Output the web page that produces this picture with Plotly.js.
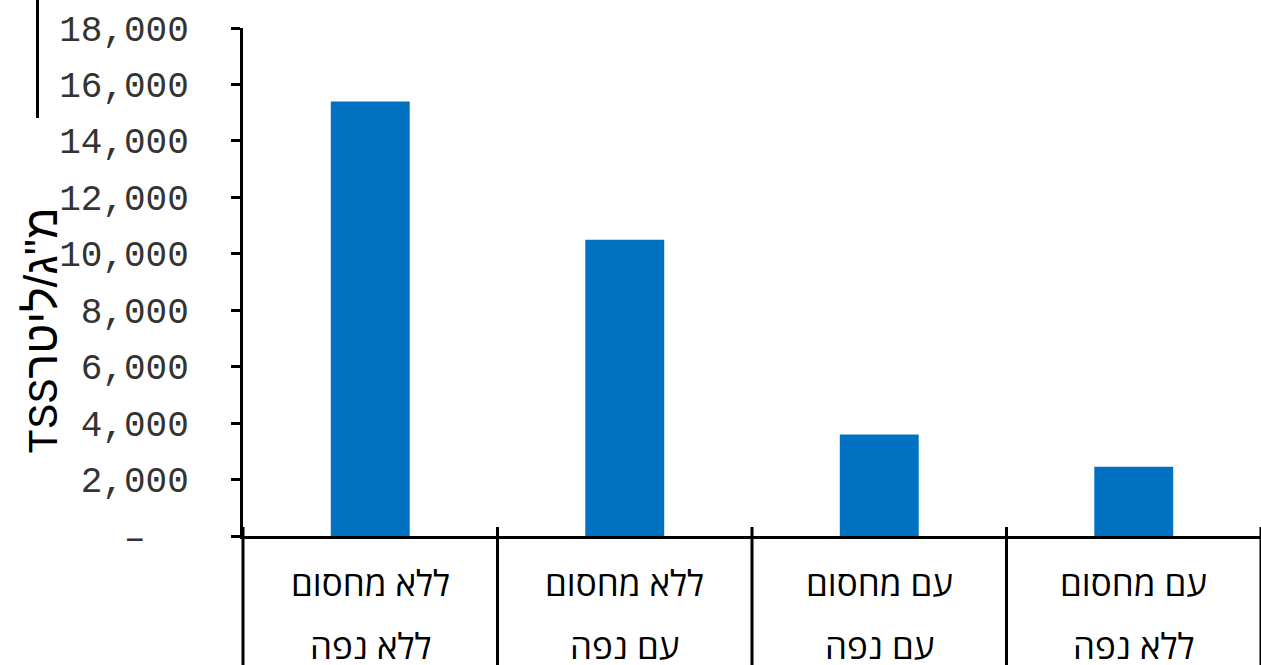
<!DOCTYPE html>
<html>
<head>
<meta charset="utf-8">
<script src="https://cdn.plot.ly/plotly-3.0.1.min.js"></script>
<style>
  html, body { margin: 0; padding: 0; background: #fff; }
  #chart { width: 1261px; height: 665px; }
</style>
</head>
<body>
<div id="chart"></div>
<script>
// TSS concentration by treatment (barrier / sieve)
const categories = ['A', 'B', 'C', 'D'];
const labelTop = ['ללא מחסום', 'ללא מחסום', 'עם מחסום', 'עם מחסום'];
const labelBottom = ['ללא נפה', 'עם נפה', 'עם נפה', 'ללא נפה'];
const tssValues = [15400, 10500, 3600, 2450];
const yTickVals = [0, 2000, 4000, 6000, 8000, 10000, 12000, 14000, 16000, 18000];
const yTickText = ['\u2013\u00a0\u00a0', '2,000', '4,000', '6,000', '8,000', '10,000', '12,000', '14,000', '16,000', '18,000'];
const yTitleLatin = 'TSS';
const yTitleHebrew = 'מ"ג/ליטר';

const W = 1261, H = 665;
const margin = { l: 243, r: 0, t: 28, b: 129 };
const plotH = H - margin.t - margin.b;
const plotW = W - margin.l - margin.r;

const MONO = 'Liberation Mono, Courier New, monospace';
const SANS = 'Noto Sans, Open Sans, sans-serif';

const trace = {
  type: 'bar',
  x: categories,
  y: tssValues,
  width: 0.31,
  marker: { color: '#0070C0', line: { width: 0 } },
  hoverinfo: 'skip'
};

// Category label rows under the axis
const annotations = [];
categories.forEach((c, i) => {
  annotations.push({
    xref: 'x', yref: 'paper', x: c, y: 0, yanchor: 'middle',
    yshift: -46, text: labelTop[i], showarrow: false,
    font: { family: SANS, size: 35, color: '#000' }
  });
  annotations.push({
    xref: 'x', yref: 'paper', x: c, y: 0, yanchor: 'middle',
    yshift: -109, text: labelBottom[i], showarrow: false,
    font: { family: SANS, size: 35, color: '#000' }
  });
});

// Rotated axis title: Latin part in monospace, Hebrew part in sans
annotations.push({
  xref: 'paper', yref: 'paper',
  x: (42 - margin.l) / plotW, y: (H - margin.b - 331) / plotH,
  xanchor: 'center', yanchor: 'middle',
  text: yTitleLatin + '<span style="font-family:Liberation Sans, Arial, sans-serif;font-size:46px">' + yTitleHebrew + '</span>',
  textangle: -90, showarrow: false,
  font: { family: MONO, size: 42, color: '#000' }
});

// Category separators running from just above the axis down past the labels
const shapes = [];
for (let k = 0; k <= categories.length; k++) {
  shapes.push({
    type: 'line', xref: 'paper', yref: 'paper',
    x0: k / categories.length, x1: k / categories.length,
    y0: -(margin.b + 5) / plotH, y1: 9 / plotH,
    line: { color: '#000', width: 3 }
  });
}
// Short vertical rule at the upper left
shapes.push({
  type: 'line', xref: 'paper', yref: 'paper',
  x0: (37.5 - margin.l) / plotW, x1: (37.5 - margin.l) / plotW,
  y0: (H - margin.b - 118) / plotH, y1: (H - margin.b + 2) / plotH,
  line: { color: '#000', width: 3 }
});

const layout = {
  width: W, height: H,
  margin: margin,
  paper_bgcolor: '#fff', plot_bgcolor: '#fff',
  showlegend: false,
  xaxis: {
    type: 'category',
    range: [-0.5, 3.5],
    showticklabels: false,
    ticks: '',
    showgrid: false, zeroline: false,
    showline: true, linecolor: '#000', linewidth: 3
  },
  yaxis: {
    range: [0, 18000],
    tickvals: yTickVals, ticktext: yTickText,
    ticks: 'outside', ticklen: 9, tickwidth: 3, tickcolor: '#000',
    ticklabelstandoff: 35,
    tickfont: { family: MONO, size: 36, color: '#333' },
    showgrid: false, zeroline: false,
    showline: true, linecolor: '#000', linewidth: 3
  },
  annotations: annotations,
  shapes: shapes
};

Plotly.newPlot('chart', [trace], layout, { displayModeBar: false, staticPlot: true });
</script>
</body>
</html>
